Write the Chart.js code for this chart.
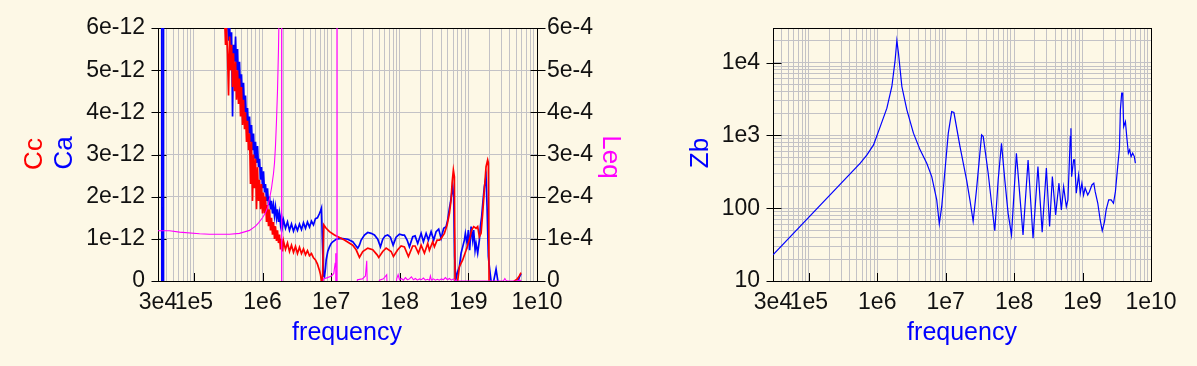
<!DOCTYPE html>
<html>
<head>
<meta charset="utf-8">
<title>Cc Ca Leq Zb</title>
<script src="https://cdn.jsdelivr.net/npm/chart.js@4.4.0/dist/chart.umd.min.js"></script>
<style>
  html, body { margin: 0; padding: 0; background: #fdf8e6; }
  #wrap { position: relative; width: 1197px; height: 366px; }
  canvas { position: absolute; top: 0; }
  #left { left: 0; }
  #right { left: 660px; }
</style>
</head>
<body>
<div id="wrap">
  <canvas id="left" width="660" height="366"></canvas>
  <canvas id="right" width="537" height="366"></canvas>
</div>
<script>
// ---------- axes ----------
const xGrid = [3e4, 4e4, 5e4, 6e4, 7e4, 8e4, 9e4,
  1e5, 2e5, 3e5, 4e5, 5e5, 6e5, 7e5, 8e5, 9e5,
  1e6, 2e6, 3e6, 4e6, 5e6, 6e6, 7e6, 8e6, 9e6,
  1e7, 2e7, 3e7, 4e7, 5e7, 6e7, 7e7, 8e7, 9e7,
  1e8, 2e8, 3e8, 4e8, 5e8, 6e8, 7e8, 8e8, 9e8,
  1e9, 2e9, 3e9, 4e9, 5e9, 6e9, 7e9, 8e9, 9e9, 1e10];
const xMajor = [3e4, 1e5, 1e6, 1e7, 1e8, 1e9, 1e10];
const xMajorLabels = ['3e4', '1e5', '1e6', '1e7', '1e8', '1e9', '1e10'];

// left panel values are plotted in units of 1e-12 (Cc, Ca) and 1e-4 (Leq)
const capTicks = [0, 1, 2, 3, 4, 5, 6];
const capLabels = ['0', '1e-12', '2e-12', '3e-12', '4e-12', '5e-12', '6e-12'];
const leqLabels = ['0', '1e-4', '2e-4', '3e-4', '4e-4', '5e-4', '6e-4'];

const zbGrid = [10, 20, 30, 40, 50, 60, 70, 80, 90,
  100, 200, 300, 400, 500, 600, 700, 800, 900,
  1000, 2000, 3000, 4000, 5000, 6000, 7000, 8000, 9000,
  10000, 20000, 30000];
const zbMajor = [10, 100, 1000, 10000];
const zbMajorLabels = ['10', '100', '1e3', '1e4'];

// ---------- Ca (blue), x1e-12 ----------
const caFreq = [3e4, 3.38e4, 3.44e4, 3.56e4, 3.61e4, 4.42e4, 8.65e4, 1.69e5, 2.8e5,
  3.09e5, 3.2e5, 3.31e5, 3.42e5, 3.54e5, 3.66e5, 3.78e5, 3.91e5, 4.05e5, 4.18e5,
  4.33e5, 4.47e5, 4.62e5, 4.78e5, 4.94e5, 5.11e5, 5.29e5, 5.47e5, 5.65e5, 5.85e5,
  6.05e5, 6.26e5, 6.47e5, 6.69e5, 6.92e5, 7.15e5, 7.4e5, 7.65e5, 7.91e5, 8.18e5,
  8.46e5, 8.75e5, 9.05e5, 9.35e5, 9.67e5, 1e6, 1.034e6, 1.07e6, 1.106e6, 1.144e6,
  1.183e6, 1.223e6, 1.265e6, 1.308e6, 1.352e6, 1.398e6, 1.446e6, 1.495e6, 1.546e6,
  1.599e6, 1.653e6, 1.71e6, 1.768e6, 1.828e6, 1.89e6, 1.955e6, 2.022e6, 2.162e6,
  2.312e6, 2.473e6, 2.644e6, 2.828e6, 3.024e6, 3.233e6, 3.458e6, 3.698e6, 3.954e6,
  4.229e6, 4.522e6, 4.836e6, 5.171e6, 5.53e6, 5.913e6, 6.324e6, 6.762e6, 6.993e6,
  7.232e6, 7.478e6, 7.733e6, 7.997e6, 8.27e6, 8.47e6, 8.93e6, 9.46e6, 1.001e7,
  1.056e7, 1.184e7, 1.4e7, 1.747e7, 2.065e7, 2.262e7, 2.443e7, 2.586e7, 2.738e7,
  3.058e7, 3.417e7, 3.828e7, 4.277e7, 4.776e7, 5.23e7, 5.648e7, 6.122e7, 6.678e7,
  7.313e7, 8.007e7, 8.851e7, 9.888e7, 1.105e8, 1.169e8, 1.281e8, 1.383e8, 1.545e8,
  1.674e8, 1.827e8, 2.048e8, 2.212e8, 2.421e8, 2.615e8, 2.863e8, 3.124e8, 3.385e8,
  3.694e8, 4.003e8, 4.369e8, 4.734e8, 4.995e8, 5.288e8, 5.468e8, 5.712e8, 5.906e8,
  6.107e8, 6.315e8, 6.531e8, 6.915e8, 7.397e8, 7.83e8, 8.26e8, 8.744e8, 9.043e8,
  9.572e8, 1e9, 1.044e9, 1.095e9, 1.155e9, 1.195e9, 1.252e9, 1.294e9, 1.366e9,
  1.446e9, 1.495e9, 1.562e9, 1.637e9, 1.71e9, 1.81e9, 1.872e9, 1.955e9, 2.022e9,
  2.141e9, 2.236e9, 2.351e9, 2.532e9, 2.689e9, 2.828e9, 5.085e9, 5.347e9, 5.529e9,
  5.854e9];
const caVal = [20, 20, -20, -20, 20, 15, 12, 9, 7,
  6.2, 5.7, 6.1, 5.5, 5.9, 3.9, 5.6, 5.2, 5.8, 5.0,
  5.5, 4.6, 5.2, 4.5, 4.9, 4.2, 4.7, 4.0, 4.4, 3.7,
  4.1, 3.5, 3.9, 3.3, 3.7, 3.1, 3.5, 2.9, 3.3, 2.8,
  3.2, 2.7, 2.9, 2.4, 2.7, 2.2, 2.6, 2.1, 2.3, 1.9,
  2.2, 1.8, 2.0, 1.7, 1.9, 1.6, 1.8, 1.55, 1.75,
  1.5, 1.7, 1.4, 1.6, 1.35, 1.55, 1.3, 1.45, 1.25,
  1.4, 1.2, 1.35, 1.18, 1.32, 1.2, 1.35, 1.22, 1.38,
  1.25, 1.4, 1.28, 1.42, 1.33, 1.48, 1.5, 1.6, 1.66,
  1.73, 0.9, 0.12, 0.1, 0.3, 0.5, 0.7, 0.81, 0.89,
  0.93, 0.99, 1.01, 0.99, 0.93, 0.85, 0.78, 0.85, 0.97,
  1.09, 1.15, 1.13, 1.09, 0.99, 0.81, 0.99, 1.07, 1.09,
  1.04, 0.85, 1.04, 1.11, 1.09, 1.09, 0.97, 0.81, 1.05,
  1.07, 0.89, 1.13, 0.93, 1.13, 0.97, 1.17, 0.97, 1.17,
  1.23, 1.01, 1.25, 1.29, 1.45, 1.72, 1.85, 2.08, 2.24,
  2.0, 0.58, 0.02, 0.2, 0.34, 0.66, 0.81, 0.97, 1.13,
  0.89, 1.21, 0.73, 1.29, 0.97, 1.21, 0.73, 0.89, 0.66,
  0.97, 1.29, 1.53, 1.92, 2.24, 2.47, 1.76, 0.58, 0.34,
  0.0, -0.3, 0.02, 0.28, 0.0, -0.4, -0.4, 0.02, 0.09,
  0.17];

// ---------- Cc (red), x1e-12 ----------
const ccFreq = [3e4, 5e4, 1e5, 2e5, 2.7e5,
  2.797e5, 2.891e5, 2.99e5, 3.09e5, 3.2e5, 3.31e5, 3.42e5, 3.54e5, 3.66e5, 3.78e5,
  3.91e5, 4.05e5, 4.18e5, 4.33e5, 4.47e5, 4.62e5, 4.78e5, 4.94e5, 5.11e5, 5.29e5,
  5.47e5, 5.65e5, 5.85e5, 6.05e5, 6.26e5, 6.47e5, 6.69e5, 6.92e5, 7.15e5, 7.4e5,
  7.65e5, 7.91e5, 8.18e5, 8.46e5, 8.75e5, 9.05e5, 9.35e5, 9.67e5, 1e6, 1.034e6,
  1.07e6, 1.106e6, 1.144e6, 1.183e6, 1.223e6, 1.265e6, 1.308e6, 1.352e6, 1.398e6,
  1.446e6, 1.495e6, 1.546e6, 1.599e6, 1.653e6, 1.71e6, 1.768e6, 1.828e6, 1.89e6,
  1.955e6, 2.022e6, 2.162e6, 2.312e6, 2.473e6, 2.644e6, 2.828e6, 3.024e6, 3.233e6,
  3.458e6, 3.698e6, 3.954e6, 4.229e6, 4.522e6, 4.836e6, 5.171e6, 5.53e6, 5.913e6,
  6.324e6, 6.762e6, 6.993e6, 7.232e6, 7.478e6, 7.81e6, 8.47e6, 9.46e6, 1.118e7,
  1.564e7, 2.065e7, 2.315e7, 2.586e7, 2.889e7, 3.417e7, 4.04e7, 4.681e7, 4.939e7,
  5.648e7, 6.33e7, 7.486e7, 8.088e7, 9.342e7, 1.047e8, 1.169e8, 1.337e8, 1.545e8,
  1.674e8, 1.87e8, 2.048e8, 2.287e8, 2.555e8, 2.704e8, 3.021e8, 3.197e8, 3.501e8,
  3.781e8, 4.003e8, 4.472e8, 4.897e8, 5.288e8, 5.598e8, 5.789e8, 6.046e8, 6.253e8,
  6.401e8, 6.577e8, 6.801e8, 6.986e8, 7.397e8, 8.26e8, 9.258e8, 1.034e9, 1.117e9,
  1.195e9, 1.294e9, 1.366e9, 1.446e9, 1.531e9, 1.616e9, 1.71e9, 1.81e9, 1.91e9,
  1.955e9, 2.002e9, 2.057e9, 4.521e9, 4.676e9, 5.12e9, 5.529e9, 5.854e9];
const ccVal = [40, 25, 15, 9, 7,
  6.3, 5.6, 6.0, 5.4, 4.4, 5.8, 5.0, 5.6, 4.6, 5.4,
  4.5, 5.2, 4.3, 5.0, 4.2, 4.8, 3.9, 4.6, 3.7, 4.3,
  3.6, 4.0, 3.3, 3.8, 3.1, 3.5, 2.3, 3.3, 1.9, 3.0,
  2.2, 2.9, 1.7, 2.7, 1.9, 2.4, 1.7, 2.3, 1.6, 2.1,
  1.6, 2.0, 1.4, 1.8, 1.3, 1.7, 1.2, 1.5, 1.1,
  1.4, 1.0, 1.3, 0.95, 1.2, 0.9, 1.1, 0.75, 1.0,
  0.7, 0.95, 0.75, 0.9, 0.7, 0.85, 0.68, 0.82, 0.65,
  0.8, 0.65, 0.76, 0.62, 0.72, 0.6, 0.65, 0.55, 0.5,
  0.4, 0.25, 0.15, 0.0, 0.0, 1.33, 1.25, 1.17, 1.09,
  0.97, 0.85, 0.74, 0.56, 0.7, 0.78, 0.74, 0.62, 0.56,
  0.7, 0.78, 0.7, 0.58, 0.74, 0.83, 0.81, 0.58, 0.83,
  0.83, 0.66, 0.85, 0.66, 0.89, 0.73, 0.93, 0.81, 0.97,
  0.97, 1.01, 1.13, 1.33, 1.6, 1.92, 2.32, 2.63, 2.47,
  0.0, -0.5, -0.3, 0.0, 0.34, 0.5, 0.73, 0.97, 1.21,
  1.29, 1.25, 1.29, 1.05, 1.13, 1.6, 2.16, 2.71, 2.87,
  2.8, 0.0, -0.5, -0.5, 0.0, 0.04, 0.12, 0.2];

// ---------- Leq (magenta), x1e-4 ----------
const leqFreq = [3e4, 4.42e4, 6.185e4, 1.209e5, 1.691e5, 3.31e5, 4.62e5, 6.47e5, 7.91e5,
  8.75e5, 1e6, 1.106e6, 1.183e6, 1.265e6, 1.352e6, 1.446e6, 1.495e6, 1.546e6, 1.599e6,
  1.653e6, 1.71e6, 1.768e6, 1.828e6, 1.89e6, 1.91e6, 2.473e6, 4.836e6, 6.762e6, 7.232e6,
  7.733e6, 8.842e6, 1.011e7, 1.092e7, 1.145e7, 1.168e7, 1.2e7, 1.216e7, 1.229e7,
  1.512e7, 2.262e7, 2.362e7, 2.418e7, 2.859e7, 3.162e7, 3.303e7, 3.382e7, 4.809e7,
  5.057e7, 5.783e7, 6.459e7, 6.613e7, 8.647e7, 9.031e7, 9.468e7, 9.888e7, 1.058e8,
  1.131e8, 1.21e8, 1.293e8, 1.383e8, 1.479e8, 1.581e8, 1.691e8, 1.809e8, 1.934e8,
  2.068e8, 2.212e8, 2.364e8, 2.528e8, 2.704e8, 2.797e8, 2.891e8, 3.092e8, 3.306e8,
  3.536e8, 3.781e8, 4.044e8, 4.324e8, 4.624e8, 4.945e8, 5.288e8, 5.655e8, 6.046e8,
  6.467e8, 6.915e8, 3.233e9, 3.401e9, 3.517e9, 3.698e9, 5.171e9, 5.529e9, 5.913e9];
const leqVal = [1.19, 1.19, 1.16, 1.12, 1.11, 1.11, 1.13, 1.2, 1.3,
  1.38, 1.5, 1.62, 1.74, 1.95, 2.2, 2.55, 2.8, 3.2, 3.8,
  4.5, 5.5, 7, 15, 100, -100, -30, -5, -1, -0.3,
  0.05, 0.08, 0.12, 0.18, 0.42, 0.66, -8, 120, -120,
  -20, -1, -0.1, 0.03, 0.05, 0.12, 0.48, -0.3, -0.3,
  0.02, 0.05, 0.15, -0.3, -0.3, 0.05, 0.15, 0.03, 0.06,
  0.02, 0.08, 0.03, 0.05, 0.1, 0.03, 0.06, 0.02, 0.05,
  0.03, 0.07, 0.02, 0.04, 0.02, 0.12, 0.02, 0.05, 0.02,
  0.04, 0.02, 0.05, 0.03, 0.08, 0.03, 0.06, 0.02, 0.05,
  0.01, 0, 0, 0.06, 0.02, 0, 0, 0.02, 0.01];

// ---------- Zb (blue, right panel) ----------
const zbFreq = [3e4, 5.655e5, 7.08e5, 8.83e5, 1.106e6, 1.384e6, 1.636e6, 1.828e6, 1.935e6,
  2.043e6, 2.29e6, 2.71e6, 3.38e6, 4.23e6, 5.29e6, 6.26e6, 7.4e6, 8.07e6, 8.75e6,
  9.78e6, 1.092e7, 1.224e7, 1.32e7, 1.62e7, 2.02e7, 2.26e7, 2.52e7, 2.82e7, 3.35e7,
  3.54e7, 4.18e7, 4.68e7, 5.22e7, 5.85e7, 6.54e7, 7.31e7, 8.17e7, 9.16e7, 1.08e8,
  1.35e8, 1.6e8, 1.89e8, 2.23e8, 2.57e8, 2.96e8, 3.3e8, 3.62e8, 4.04e8, 4.52e8,
  4.9e8, 5.29e8, 5.79e8, 6.11e8, 6.62e8, 6.76e8, 6.92e8, 7.4e8, 7.65e8, 8.1e8,
  8.75e8, 9.27e8, 9.78e8, 1.035e9, 1.09e9, 1.19e9, 1.26e9, 1.37e9, 1.46e9, 1.53e9,
  1.67e9, 1.81e9, 1.94e9, 2.09e9, 2.21e9, 2.41e9, 2.62e9, 2.83e9, 3.02e9, 3.26e9,
  3.46e9, 3.57e9, 3.73e9, 3.86e9, 3.99e9, 4.23e9, 4.42e9, 4.67e9, 4.88e9, 5.12e9,
  5.4e9, 5.71e9, 5.91e9];
const zbVal = [22.8, 416, 541, 743, 1324, 2371, 4710, 10960, 20200,
  13550, 4710, 2250, 1077, 634, 416, 272, 130, 61, 105,
  336, 1077, 2130, 2066, 703, 245, 130, 66, 179, 1018,
  966, 303, 117, 49, 245, 778, 245, 85, 43, 567,
  43, 461, 38.6, 373, 47, 358, 56, 272, 81, 221,
  95, 198, 105, 130, 966, 1259, 272, 461, 461, 161,
  287, 161, 221, 152, 190, 152, 169, 209, 221, 169,
  117, 69, 49, 65, 95, 130, 130, 117, 169, 373,
  668, 2250, 3820, 3820, 1324, 1552, 966, 571, 634, 513,
  571, 513, 416];

// ---------- helpers ----------
const pairs = (xs, ys) => xs.map((x, i) => ({ x: x, y: ys[i] }));
const FONT = '"Liberation Sans", Arial, Helvetica, sans-serif';
const GRID = '#c3c2c6';
Chart.defaults.font.family = FONT;
Chart.defaults.font.size = 23;
Chart.defaults.color = '#111111';

// frame, inward tick marks and the coloured axis titles
const deco = {
  id: 'deco',
  beforeDatasetsDraw(chart, args, o) {
    const ctx = chart.ctx, a = chart.chartArea;
    ctx.save();
    ctx.strokeStyle = '#000';
    ctx.lineWidth = 1;
    ctx.strokeRect(a.left + 0.5, a.top + 0.5, a.right - a.left, a.bottom - a.top);
    ctx.beginPath();
    const xs = chart.scales.x;
    o.xMarks.forEach(v => {
      const p = Math.round(xs.getPixelForValue(v)) + 0.5;
      ctx.moveTo(p, a.bottom);
      ctx.lineTo(p, a.bottom - 8);
    });
    o.yMarks.forEach(m => {
      const s = chart.scales[m.axis];
      const edge = (s.position === 'left' ? a.left : a.right) + 0.5;
      m.values.forEach(v => {
        const p = Math.round(s.getPixelForValue(v)) + 0.5;
        ctx.moveTo(edge - 7, p);
        ctx.lineTo(edge + 8, p);
      });
    });
    ctx.stroke();
    ctx.restore();
  },
  afterDraw(chart, args, o) {
    const ctx = chart.ctx;
    o.titles.forEach(t => {
      ctx.save();
      ctx.translate(t.x, t.y);
      ctx.rotate(t.angle);
      ctx.font = t.size + 'px ' + FONT;
      ctx.fillStyle = t.color;
      ctx.textAlign = 'center';
      ctx.textBaseline = 'alphabetic';
      ctx.fillText(t.text, 0, 0);
      ctx.restore();
    });
  }
};

function logX() {
  return {
    type: 'logarithmic',
    min: 3e4,
    max: 1e10,
    afterBuildTicks: s => { s.ticks = xGrid.map(v => ({ value: v })); },
    afterFit: s => { s.height = 85; },
    grid: { color: GRID, drawTicks: false },
    border: { display: false },
    ticks: {
      autoSkip: false, maxRotation: 0, minRotation: 0, padding: 8,
      callback: v => { const i = xMajor.indexOf(v); return i >= 0 ? xMajorLabels[i] : ''; }
    }
  };
}

function capAxis(pos, labels, width, pad, drawGrid) {
  return {
    type: 'linear',
    position: pos,
    min: 0,
    max: 6,
    afterBuildTicks: s => { s.ticks = capTicks.map(v => ({ value: v })); },
    afterFit: s => { s.width = width; },
    grid: { color: GRID, drawTicks: false, drawOnChartArea: drawGrid },
    border: { display: false },
    ticks: { padding: pad, callback: (v, i) => labels[i] }
  };
}

// ---------- left panel ----------
new Chart(document.getElementById('left'), {
  type: 'line',
  data: {
    datasets: [
      { label: 'Leq', yAxisID: 'y1', data: pairs(leqFreq, leqVal), borderColor: '#ff00ff', borderWidth: 1.1, order: 0 },
      { label: 'Cc', yAxisID: 'y', data: pairs(ccFreq, ccVal), borderColor: '#ff0000', borderWidth: 1.7, order: 1 },
      { label: 'Ca', yAxisID: 'y', data: pairs(caFreq, caVal), borderColor: '#0000ff', borderWidth: 1.7, order: 2 }
    ]
  },
  options: {
    responsive: false,
    animation: false,
    layout: { padding: { top: 28, left: 0, right: 0, bottom: 0 } },
    elements: { point: { radius: 0 }, line: { tension: 0 } },
    plugins: {
      legend: { display: false },
      tooltip: { enabled: false },
      deco: {
        xMarks: xMajor,
        yMarks: [{ axis: 'y', values: capTicks }, { axis: 'y1', values: capTicks }],
        titles: [
          { text: 'Cc', x: 42, y: 154, angle: -Math.PI / 2, color: '#ff0000', size: 26 },
          { text: 'Ca', x: 72, y: 153, angle: -Math.PI / 2, color: '#0000ff', size: 26 },
          { text: 'Leq', x: 603, y: 157, angle: Math.PI / 2, color: '#ff00ff', size: 26 },
          { text: 'frequency', x: 347, y: 340, angle: 0, color: '#0000ff', size: 25 }
        ]
      }
    },
    scales: {
      x: logX(),
      y: capAxis('left', capLabels, 158, 13, true),
      y1: capAxis('right', leqLabels, 123, 10, false)
    }
  },
  plugins: [deco]
});

// ---------- right panel ----------
new Chart(document.getElementById('right'), {
  type: 'line',
  data: {
    datasets: [
      { label: 'Zb', data: pairs(zbFreq, zbVal), borderColor: '#0000ff', borderWidth: 1.2 }
    ]
  },
  options: {
    responsive: false,
    animation: false,
    layout: { padding: { top: 28, left: 0, right: 46, bottom: 0 } },
    elements: { point: { radius: 0 }, line: { tension: 0 } },
    plugins: {
      legend: { display: false },
      tooltip: { enabled: false },
      deco: {
        xMarks: xMajor,
        yMarks: [{ axis: 'y', values: zbMajor }],
        titles: [
          { text: 'Zb', x: 48, y: 153, angle: -Math.PI / 2, color: '#0000ff', size: 26 },
          { text: 'frequency', x: 302, y: 340, angle: 0, color: '#0000ff', size: 25 }
        ]
      }
    },
    scales: {
      x: logX(),
      y: {
        type: 'logarithmic',
        min: 10,
        max: 30000,
        afterBuildTicks: s => { s.ticks = zbGrid.map(v => ({ value: v })); },
        afterFit: s => { s.width = 113; },
        grid: { color: GRID, drawTicks: false },
        border: { display: false },
        ticks: {
          autoSkip: false, padding: 13,
          callback: v => { const i = zbMajor.indexOf(v); return i >= 0 ? zbMajorLabels[i] : ''; }
        }
      }
    }
  },
  plugins: [deco]
});
</script>
</body>
</html>
